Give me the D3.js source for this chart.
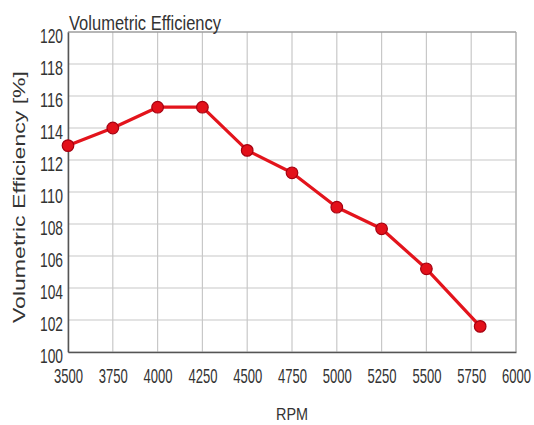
<!DOCTYPE html>
<html><head><meta charset="utf-8">
<script src="https://cdn.jsdelivr.net/npm/d3@7"></script>
<style>
body{margin:0;background:#fff;}
text{font-family:"Liberation Sans",Arial,sans-serif;fill:#333;}
</style></head>
<body><svg id="c" width="534" height="425"></svg>
<script>
const rpm = [3500, 3750, 4000, 4250, 4500, 4750, 5000, 5250, 5500, 5800];
const efficiency = [112.9, 114.0, 115.3, 115.3, 112.6, 111.2, 109.05, 107.7, 105.2, 101.6];
const xTicks = [3500, 3750, 4000, 4250, 4500, 4750, 5000, 5250, 5500, 5750, 6000];
const yTicks = [100, 102, 104, 106, 108, 110, 112, 114, 116, 118, 120];

const svg = d3.select("#c");
const L = 68, R = 516, T = 32, B = 352;
const x = d3.scaleLinear().domain([3500, 6000]).range([L, R]);
const y = d3.scaleLinear().domain([100, 120]).range([B, T]);

// grid
svg.append("g").selectAll("line").data(xTicks).join("line")
  .attr("x1", d => x(d)).attr("x2", d => x(d)).attr("y1", T).attr("y2", B)
  .attr("stroke", "#c8c8c8").attr("stroke-width", 1.2);
svg.append("g").selectAll("line").data(yTicks).join("line")
  .attr("x1", L).attr("x2", R).attr("y1", d => y(d)).attr("y2", d => y(d))
  .attr("stroke", "#c8c8c8").attr("stroke-width", 1.2);

// frame
svg.append("line").attr("x1", L).attr("x2", R).attr("y1", T).attr("y2", T).attr("stroke", "#888");
svg.append("line").attr("x1", R).attr("x2", R).attr("y1", T).attr("y2", B).attr("stroke", "#aaa");

// axes
const xAxis = d3.axisBottom(x).tickValues(xTicks).tickSize(0).tickFormat(d3.format("d"));
const gx = svg.append("g").attr("transform", `translate(0,${B})`).call(xAxis);
gx.select(".domain").attr("stroke", "#555").attr("stroke-width", 1.5);
gx.selectAll("text").attr("font-size", 21).attr("fill", "#333")
  .attr("y", 31).attr("dy", 0)
  .attr("textLength", 29).attr("lengthAdjust", "spacingAndGlyphs");

const yAxis = d3.axisLeft(y).tickValues(yTicks).tickSize(0).tickPadding(5).tickFormat(d3.format("d"));
const gy = svg.append("g").attr("transform", `translate(${L},0)`).call(yAxis);
gy.select(".domain").attr("stroke", "#555").attr("stroke-width", 1.5);
gy.selectAll("text").attr("font-size", 20).attr("fill", "#333")
  .attr("dy", 10).attr("x", -5)
  .attr("textLength", 23).attr("lengthAdjust", "spacingAndGlyphs");

// line
const line = d3.line().x((d, i) => x(rpm[i])).y(d => y(d));
svg.append("path").datum(efficiency).attr("d", line)
  .attr("fill", "none").attr("stroke", "#e3141c").attr("stroke-width", 3.2)
  .attr("stroke-linejoin", "round");
svg.append("g").selectAll("circle").data(efficiency).join("circle")
  .attr("cx", (d, i) => x(rpm[i])).attr("cy", d => y(d)).attr("r", 5.8)
  .attr("fill", "#e3101a").attr("stroke", "#a50010").attr("stroke-width", 1.2);

// titles
svg.append("text").attr("x", 69).attr("y", 30).attr("font-size", 20)
  .attr("textLength", 152).attr("lengthAdjust", "spacingAndGlyphs")
  .text("Volumetric Efficiency");
svg.append("text").attr("x", 292).attr("y", 420).attr("text-anchor", "middle")
  .attr("font-size", 17).attr("textLength", 32).attr("lengthAdjust", "spacingAndGlyphs")
  .text("RPM");
svg.append("text").attr("transform", "translate(25,197) rotate(-90)")
  .attr("text-anchor", "middle").attr("font-size", 17).attr("fill", "#3a3a3a")
  .attr("textLength", 252).attr("lengthAdjust", "spacingAndGlyphs")
  .text("Volumetric Efficiency [%]");
</script></body></html>
